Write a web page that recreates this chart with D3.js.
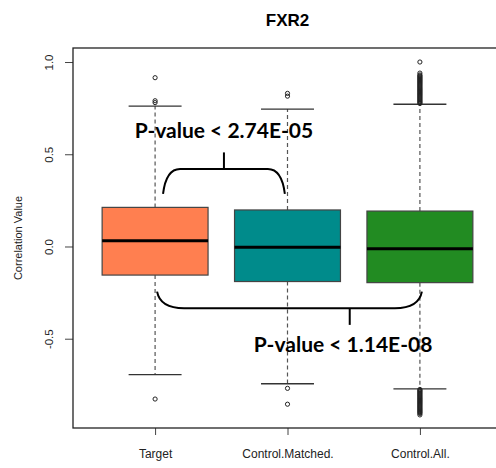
<!DOCTYPE html>
<html>
<head>
<meta charset="utf-8">
<script src="https://cdn.jsdelivr.net/npm/d3@7"></script>
<style>
  html, body { margin: 0; padding: 0; background: #fff; }
  svg { display: block; }
</style>
</head>
<body>
<svg id="chart" width="496" height="468"></svg>
<script>
// ---- data ----
const title = "FXR2";
const categories = ["Target", "Control.Matched.", "Control.All."];
const colors = ["#FF7F50", "#008B8B", "#228B22"];
const q1 = [-0.155, -0.190, -0.196];
const medians = [0.031, -0.004, -0.012];
const q3 = [0.212, 0.198, 0.192];
const whiskerLow = [-0.695, -0.744, -0.772];
const whiskerHigh = [0.761, 0.745, 0.771];
const outliersTarget = [0.915, 0.79, 0.78, -0.827];
const outliersMatched = [0.83, 0.815, -0.769, -0.855];
const outliersAll = [1.0, 0.94, 0.93, 0.925, 0.92, 0.915, 0.91, 0.905, 0.90, 0.895, 0.89, 0.885, 0.88, 0.875, 0.87, 0.865,
                     0.86, 0.855, 0.85, 0.845, 0.84, 0.835, 0.83, 0.825, 0.82, 0.815, 0.81, 0.805, 0.80, 0.795, 0.79, 0.785, 0.78, 0.775,
                     -0.775, -0.78, -0.785, -0.79, -0.795, -0.80, -0.805, -0.81, -0.815, -0.82, -0.825, -0.83, -0.835, -0.84,
                     -0.845, -0.85, -0.855, -0.86, -0.865, -0.87, -0.875, -0.88, -0.885, -0.89, -0.895, -0.90, -0.905, -0.913];
const yTicks = [-0.5, 0.0, 0.5, 1.0];
const yTickLabels = ["-0.5", "0.0", "0.5", "1.0"];
const yLabel = "Correlation Value";
// annotation brackets (data units) and p-value labels
const bracketTop = {x1: 1.06, x2: 1.98, yEnd: 0.285, yBar: 0.42, yTick: 0.51, xTick: 1.52, label: "P-value < 2.74E-05", labelY: 0.587};
const bracketBottom = {x1: 1.015, x2: 3.015, yEnd: -0.245, yBar: -0.335, yTick: -0.425, xTick: 2.47, label: "P-value < 1.14E-08", labelX: 2.42, labelY: -0.571};

// ---- layout ----
const svg = d3.select("#chart");
const pLeft = 73, pRight = 502, pTop = 48, pBottom = 428;
const x = d3.scaleLinear().domain([0.38, 3.62]).range([pLeft, pRight]);
const y = d3.scaleLinear().domain([-0.984, 1.076]).range([pBottom, pTop]);
const boxW = x(1.4) - x(1.0); // half-width of 0.8 box
const outliers = [outliersTarget, outliersMatched, outliersAll];

// title
svg.append("text").attr("x", (pLeft + pRight) / 2).attr("y", 26)
  .attr("text-anchor", "middle").attr("font-family", "Liberation Sans, Arial, sans-serif")
  .attr("font-weight", "bold").attr("font-size", 17).attr("fill", "#000").text(title);

// y axis
const yAxis = d3.axisLeft(y).tickValues(yTicks).tickFormat((d, i) => yTickLabels[i]).tickSize(8).tickSizeOuter(0);
const gy = svg.append("g").attr("transform", `translate(${pLeft},0)`).call(yAxis);
gy.select(".domain").remove();
gy.selectAll(".tick line").attr("stroke", "#444");
gy.selectAll(".tick text")
  .attr("font-family", "Liberation Sans, Arial, sans-serif").attr("font-size", 11.5).attr("fill", "#222")
  .attr("x", null).attr("dy", "0.35em").attr("text-anchor", "middle")
  .attr("transform", "translate(-24,0) rotate(-90)");

// x axis ticks
const xAxis = d3.axisBottom(x).tickValues([1, 2, 3]).tickFormat((d, i) => categories[i]).tickSize(7).tickSizeOuter(0);
const gx = svg.append("g").attr("transform", `translate(0,${pBottom})`).call(xAxis);
gx.select(".domain").remove();
gx.selectAll(".tick line").attr("stroke", "#444");
gx.selectAll(".tick text").attr("font-family", "Liberation Sans, Arial, sans-serif").attr("font-size", 12)
  .attr("fill", "#222").attr("y", 30).attr("dy", null);

// frame
svg.append("rect").attr("x", pLeft).attr("y", pTop).attr("width", pRight - pLeft).attr("height", pBottom - pTop)
  .attr("fill", "none").attr("stroke", "#222").attr("stroke-width", 1.3);

// y label
svg.append("text").attr("transform", `translate(18,${(pTop + pBottom) / 2}) rotate(-90)`)
  .attr("text-anchor", "middle").attr("dy", "0.35em")
  .attr("font-family", "Liberation Sans, Arial, sans-serif").attr("font-size", 11).attr("fill", "#222").text(yLabel);

// boxes
categories.forEach((c, i) => {
  const cx = x(i + 1);
  const g = svg.append("g");
  g.append("line").attr("x1", cx).attr("x2", cx).attr("y1", y(q3[i])).attr("y2", y(whiskerHigh[i]))
    .attr("stroke", "#555").attr("stroke-width", 1.2).attr("stroke-dasharray", "4,3");
  g.append("line").attr("x1", cx).attr("x2", cx).attr("y1", y(q1[i])).attr("y2", y(whiskerLow[i]))
    .attr("stroke", "#555").attr("stroke-width", 1.2).attr("stroke-dasharray", "4,3");
  [whiskerHigh[i], whiskerLow[i]].forEach(v => {
    g.append("line").attr("x1", cx - boxW / 2).attr("x2", cx + boxW / 2).attr("y1", y(v)).attr("y2", y(v))
      .attr("stroke", "#333").attr("stroke-width", 1.3);
  });
  g.append("rect").attr("x", cx - boxW).attr("width", 2 * boxW)
    .attr("y", y(q3[i])).attr("height", y(q1[i]) - y(q3[i]))
    .attr("fill", colors[i]).attr("stroke", "#444").attr("stroke-width", 1.2);
  g.append("line").attr("x1", cx - boxW).attr("x2", cx + boxW).attr("y1", y(medians[i])).attr("y2", y(medians[i]))
    .attr("stroke", "#000").attr("stroke-width", 3);
  g.selectAll("circle").data(outliers[i]).join("circle")
    .attr("cx", cx).attr("cy", d => y(d)).attr("r", 2.1)
    .attr("fill", "none").attr("stroke", "#222").attr("stroke-width", 1);
});

// brackets
function drawBracket(b, dir) {
  const x1 = x(b.x1), x2 = x(b.x2), yE = y(b.yEnd), yB = y(b.yBar);
  const r = dir > 0 ? 17 : 27;
  const p = d3.path();
  p.moveTo(x1, yE);
  p.bezierCurveTo(x1 + 2, yB + (yE - yB) * 0.35, x1 + r * 0.4, yB, x1 + r, yB);
  p.lineTo(x2 - r, yB);
  p.bezierCurveTo(x2 - r * 0.4, yB, x2 - 2, yB + (yE - yB) * 0.35, x2, yE);
  svg.append("path").attr("d", p.toString()).attr("fill", "none").attr("stroke", "#000").attr("stroke-width", 2);
  svg.append("line").attr("x1", x(b.xTick)).attr("x2", x(b.xTick)).attr("y1", yB).attr("y2", y(b.yTick))
    .attr("stroke", "#000").attr("stroke-width", 2);
  const t = svg.append("text").attr("x", x(b.labelX || b.xTick)).attr("y", y(b.labelY))
    .attr("text-anchor", "middle").attr("font-family", "Lato, 'Open Sans', sans-serif")
    .attr("font-weight", "bold").attr("font-size", 21).attr("fill", "#000").text(b.label);
  const w = t.node().getComputedTextLength();
  if (Math.abs(w - 182) > 4) t.attr("textLength", 182).attr("lengthAdjust", "spacingAndGlyphs");
}
drawBracket(bracketTop, 1);
drawBracket(bracketBottom, -1);
</script>
</body>
</html>
